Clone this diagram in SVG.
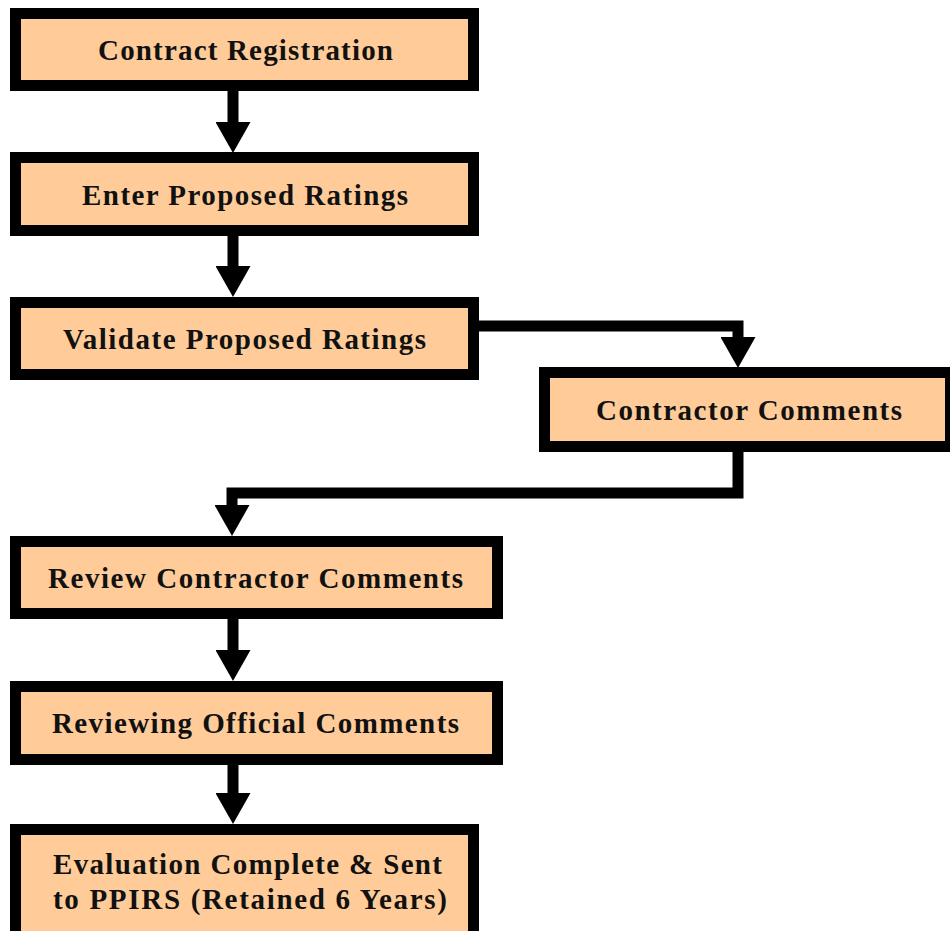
<svg xmlns="http://www.w3.org/2000/svg" width="950" height="931" viewBox="0 0 950 931">
<style>
.box{fill:#FFCC99;stroke:#000;stroke-width:11;stroke-linejoin:miter}
.lbl{font-family:"Liberation Serif","Times New Roman",serif;font-weight:bold;font-size:29px;fill:#111;text-anchor:middle}
.con{fill:none;stroke:#000;stroke-width:11;stroke-linejoin:miter;stroke-linecap:butt;marker-end:url(#ah)}
</style>
<defs>
<marker id="ah" markerUnits="userSpaceOnUse" viewBox="0 0 31 35" markerWidth="31" markerHeight="35" refX="0" refY="17.5" orient="auto">
<path d="M0,0 L31,17.5 L0,35 Z" fill="#000"/>
</marker>
</defs>
<rect width="950" height="931" fill="#fff"/>
<g id="connectors">
<path class="con" d="M233,91 V122"/>
<path class="con" d="M233,236 V266"/>
<path class="con" d="M478,326 H738 V337"/>
<path class="con" d="M738,452 V493 H232 V505"/>
<path class="con" d="M233,619 V650"/>
<path class="con" d="M233,765 V793"/>
</g>
<g id="n1"><rect class="box" x="15.5" y="13.5" width="458" height="72"/><text class="lbl" x="245.5" y="60" textLength="295" lengthAdjust="spacing">Contract Registration</text></g>
<g id="n2"><rect class="box" x="15.5" y="157.5" width="458" height="73"/><text class="lbl" x="245" y="205" textLength="326" lengthAdjust="spacing">Enter Proposed Ratings</text></g>
<g id="n3"><rect class="box" x="15.5" y="302.5" width="458" height="72"/><text class="lbl" x="244.5" y="349" textLength="363" lengthAdjust="spacing">Validate Proposed Ratings</text></g>
<g id="n4"><rect class="box" x="544.5" y="372.5" width="406" height="74"/><text class="lbl" x="749" y="420" textLength="306" lengthAdjust="spacing">Contractor Comments</text></g>
<g id="n5"><rect class="box" x="15.5" y="541.5" width="482" height="72"/><text class="lbl" x="255.5" y="588" textLength="415" lengthAdjust="spacing">Review Contractor Comments</text></g>
<g id="n6"><rect class="box" x="15.5" y="686.5" width="482" height="73"/><text class="lbl" x="255.5" y="733" textLength="407" lengthAdjust="spacing">Reviewing Official Comments</text></g>
<g id="n7"><rect class="box" x="15.5" y="829.5" width="458" height="120"/><text class="lbl" x="247.5" y="874" textLength="389" lengthAdjust="spacing">Evaluation Complete &amp; Sent</text><text class="lbl" x="250" y="909" textLength="394" lengthAdjust="spacing">to PPIRS (Retained 6 Years)</text></g>
</svg>
